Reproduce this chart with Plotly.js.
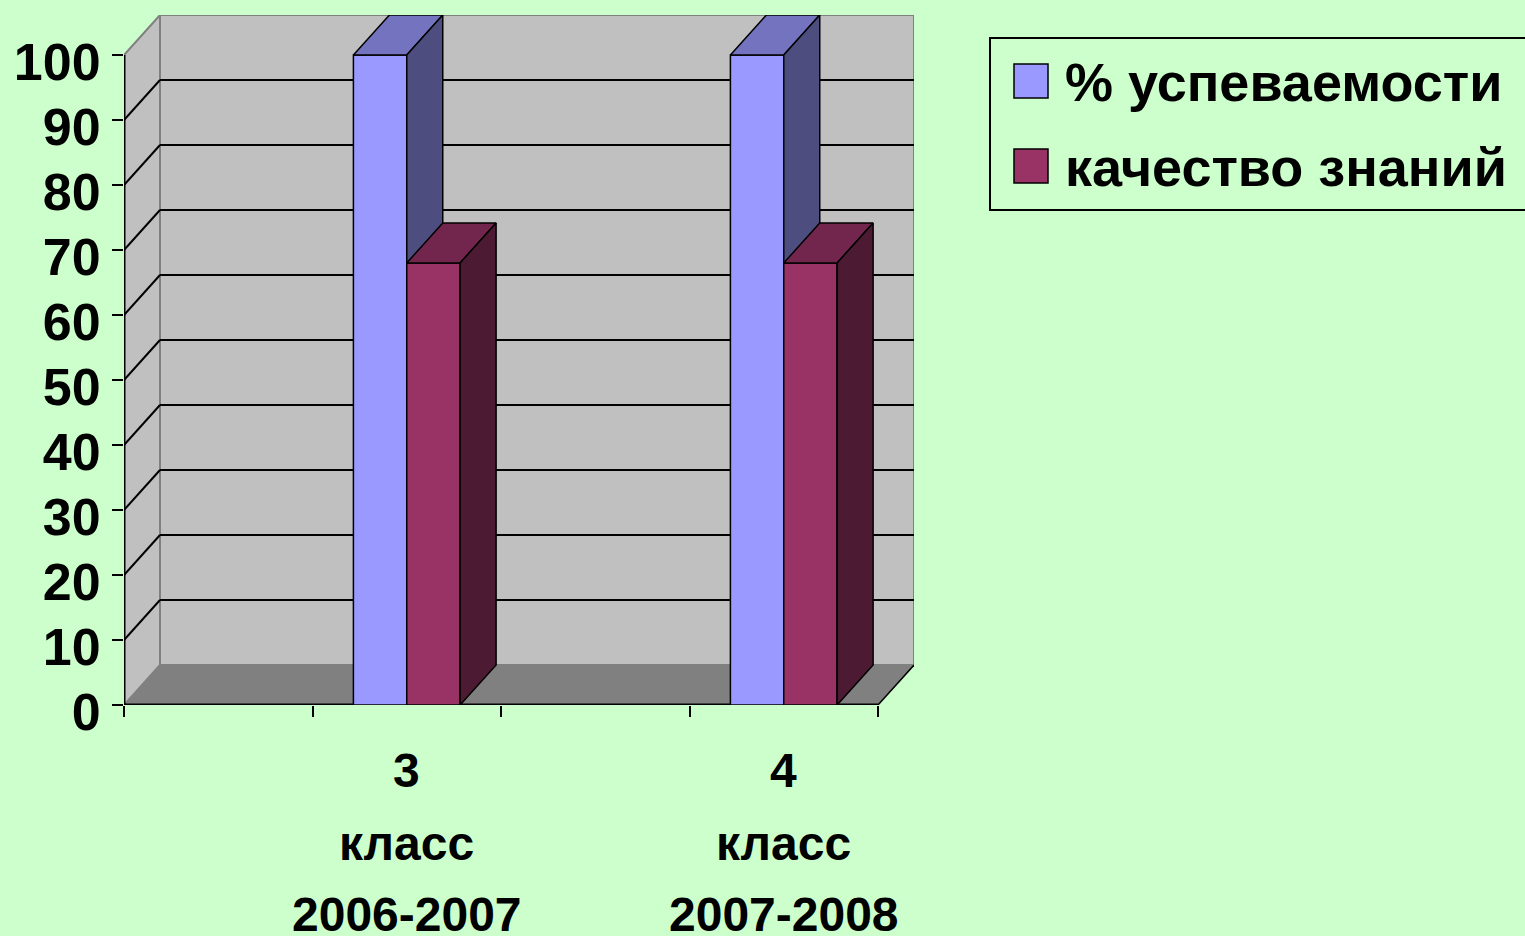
<!DOCTYPE html>
<html>
<head>
<meta charset="utf-8">
<script src="https://cdn.plot.ly/plotly-3.0.1.min.js"></script>
<style>html,body{margin:0;padding:0;background:#ccffcc;}#chart{width:1525px;height:936px;}</style>
</head>
<body>
<div id="chart"></div>
<script>
// ---- data ----
const categoryLabels = [[], ["3", "класс", "2006-2007"], [], ["4", "класс", "2007-2008"]];
const seriesNames = ["% успеваемости", "качество знаний"];
const uspevaemost = [null, 100, null, 100];
const kachestvo = [null, 68, null, 68];
const yTicks = [0, 10, 20, 30, 40, 50, 60, 70, 80, 90, 100];

// ---- styling / geometry ----
const FRONT = ["#9999ff", "#993366"];
const TOP = ["#7373c0", "#73264d"];
const SIDE = ["#4d4d80", "#4d1a33"];
const BAR_W = 0.283;
const DX = 0.191;   // depth along x (category units)
const DY = 6.15;    // depth along y (value units)
const YMAX = 100;
const nCat = categoryLabels.length;
const M = {l: 124, r: 1525 - 914, t: 15, b: 936 - 705};
const PW = 1525 - M.l - M.r, PH = 936 - M.t - M.b;
const px2x = p => (p - M.l) / PW;
const py2y = p => (936 - M.b - p) / PH;
const font = "Liberation Sans, Arial, sans-serif";

function poly(xs, ys, color) {
  return {type: "scatter", mode: "lines", x: xs.concat([xs[0]]), y: ys.concat([ys[0]]),
    fill: "toself", fillcolor: color, line: {color: "#000", width: 1.5},
    hoverinfo: "skip", showlegend: false};
}

const traces = [];
const series = [uspevaemost, kachestvo];
for (let i = 0; i < nCat; i++) {
  series.forEach((vals, s) => {
    const v = vals[i];
    if (v === null || v === undefined) return;
    const x0 = i - BAR_W + s * BAR_W, x1 = x0 + BAR_W;
    traces.push(poly([x0, x1, x1, x0], [0, 0, v, v], FRONT[s]));
    traces.push(poly([x0, x1, x1 + DX, x0 + DX], [v, v, v + DY, v + DY], TOP[s]));
    traces.push(poly([x1, x1 + DX, x1 + DX, x1], [0, DY, v + DY, v], SIDE[s]));
  });
}

const xL = -0.5, xR = nCat - 0.5;
const shapes = [];
function path(pts) { return "M" + pts.map(p => p[0] + "," + p[1]).join("L") + "Z"; }
// back wall
shapes.push({type: "path", layer: "below", xref: "x", yref: "y",
  path: path([[xL + DX, DY], [xR + DX, DY], [xR + DX, YMAX + DY], [xL + DX, YMAX + DY]]),
  fillcolor: "#c0c0c0", line: {color: "#808080", width: 2}});
// side wall
shapes.push({type: "path", layer: "below", xref: "x", yref: "y",
  path: path([[xL, 0], [xL, YMAX], [xL + DX, YMAX + DY], [xL + DX, DY]]),
  fillcolor: "#c0c0c0", line: {color: "#808080", width: 2}});
// floor
shapes.push({type: "path", layer: "below", xref: "x", yref: "y",
  path: path([[xL, 0], [xR, 0], [xR + DX, DY], [xL + DX, DY]]),
  fillcolor: "#808080", line: {width: 0}});
// gridlines
yTicks.forEach(t => {
  if (t === 0 || t === YMAX) return;
  shapes.push({type: "line", layer: "below", xref: "x", yref: "y", x0: xL, y0: t, x1: xL + DX, y1: t + DY, line: {color: "#000", width: 2}});
  shapes.push({type: "line", layer: "below", xref: "x", yref: "y", x0: xL + DX, y0: t + DY, x1: xR + DX, y1: t + DY, line: {color: "#000", width: 2}});
});
// axis lines
shapes.push({type: "line", layer: "below", xref: "x", yref: "y", x0: xL, y0: 0, x1: xL, y1: YMAX, line: {color: "#000", width: 3}});
shapes.push({type: "line", layer: "below", xref: "x", yref: "y", x0: xL, y0: 0, x1: xR, y1: 0, line: {color: "#000", width: 3}});
shapes.push({type: "line", layer: "below", xref: "x", yref: "y", x0: xR, y0: 0, x1: xR + DX, y1: DY, line: {color: "#000", width: 1.5}});

// legend (drawn manually for large swatches)
shapes.push({type: "rect", xref: "paper", yref: "paper", x0: px2x(990), x1: px2x(1535), y0: py2y(210), y1: py2y(38),
  line: {color: "#000", width: 2}, fillcolor: "rgba(0,0,0,0)"});
const annotations = [];
const legRows = [81, 166];
seriesNames.forEach((name, s) => {
  const cy = legRows[s];
  shapes.push({type: "rect", xref: "paper", yref: "paper", x0: px2x(1014), x1: px2x(1048), y0: py2y(cy + 17), y1: py2y(cy - 17),
    line: {color: "#000", width: 1.5}, fillcolor: FRONT[s]});
  annotations.push({xref: "paper", yref: "paper", x: px2x(1063), y: py2y(cy + 1), xanchor: "left", yanchor: "middle",
    text: "<b>" + name + "</b>", showarrow: false, font: {family: font, size: 54, color: "#000"}});
});

// category labels (three lines each)
const lineShift = [-65, -138, -209];
categoryLabels.forEach((lines, i) => {
  lines.forEach((txt, j) => {
    annotations.push({xref: "x", yref: "paper", x: i, y: 0, yshift: lineShift[j], xanchor: "center", yanchor: "middle",
      text: "<b>" + txt + "</b>", showarrow: false, font: {family: font, size: 48, color: "#000"}});
  });
});

const boundaries = [];
for (let i = 0; i <= nCat; i++) boundaries.push(i - 0.5);

const layout = {
  width: 1525, height: 936,
  margin: M,
  paper_bgcolor: "#ccffcc", plot_bgcolor: "#ccffcc",
  showlegend: false,
  xaxis: {type: "linear", range: [xL, xR + DX], tickvals: boundaries, ticktext: boundaries.map(() => ""),
    ticks: "outside", ticklen: 11, tickwidth: 2, tickcolor: "#000", showgrid: false, zeroline: false, showline: false,
    fixedrange: true},
  yaxis: {type: "linear", range: [0, YMAX + DY], tickvals: yTicks, ticktext: yTicks.map(t => "<b>" + t + "</b>"),
    ticks: "outside", ticklen: 11, tickwidth: 2, tickcolor: "#000", ticklabelstandoff: 1, ticklabelshift: 7,
    tickfont: {family: font, size: 52, color: "#000"},
    showgrid: false, zeroline: false, showline: false, fixedrange: true},
  shapes: shapes,
  annotations: annotations
};

Plotly.newPlot("chart", traces, layout, {displayModeBar: false, staticPlot: true});
</script>
</body>
</html>
